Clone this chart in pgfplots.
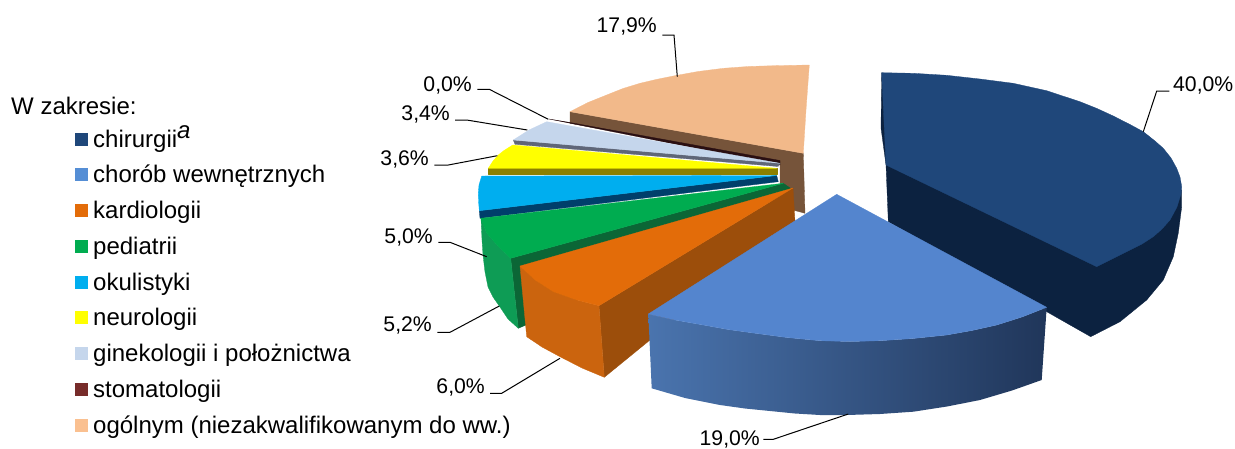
\documentclass[border=0pt]{standalone}
\usepackage{fontspec}
\setmainfont{Liberation Sans}
\usepackage{pgfplots}
\pgfplotsset{compat=1.18}
\definecolor{dbtop}{HTML}{1F477A}
\definecolor{dbside}{HTML}{0C2240}
\definecolor{bltop}{HTML}{5485CE}
\definecolor{blL}{HTML}{4A74AE}
\definecolor{blR}{HTML}{20365A}
\definecolor{ortop}{HTML}{E36C09}
\definecolor{orfront}{HTML}{CB640E}
\definecolor{orside}{HTML}{9C4E0B}
\definecolor{grtop}{HTML}{00AC50}
\definecolor{grfront}{HTML}{0E9C55}
\definecolor{grside}{HTML}{0B6636}
\definecolor{cytop}{HTML}{00AEEF}
\definecolor{cyside}{HTML}{003F6B}
\definecolor{yetop}{HTML}{FFFF00}
\definecolor{yeside}{HTML}{8C8000}
\definecolor{gitop}{HTML}{C5D6EC}
\definecolor{giside}{HTML}{5F6678}
\definecolor{sttop}{HTML}{2A0F12}
\definecolor{pctop}{HTML}{F2B98A}
\definecolor{pcside}{HTML}{76543A}
\definecolor{lgblue}{HTML}{558ED5}
\definecolor{lgst}{HTML}{772C2A}
\definecolor{lgpc}{HTML}{FAC090}
\newcommand{\poly}[2]{\addplot[fill=#1,draw=#1,line width=.3pt,line join=round] coordinates {#2} --cycle;}
\newcommand{\leader}[1]{\addplot[black,line width=1pt] coordinates {#1};}
\newcommand{\lab}[3]{\node[anchor=#1,inner sep=0pt,font=\fontsize{21.2}{21.2}\selectfont] at (axis cs:#2) {#3};}
\newcommand{\leg}[3]{\addplot[fill=#1,draw=none] coordinates {(75,#2-6.5) (88,#2-6.5) (88,#2+6.5) (75,#2+6.5)} --cycle;}
\begin{document}
\begin{tikzpicture}
\begin{axis}[hide axis,scale only axis,width=1235pt,height=448pt,xmin=0,xmax=1235,ymin=0,ymax=448,y dir=reverse,clip=false]
\path (axis cs:0,0) rectangle (axis cs:1235,448);
% ogolnym
\poly{pcside}{(570,111.7)(803.3,153.3)(805,213.3)(793,210)(780,190)(780,161.7)(570,123.3)}
\poly{pctop}{(570,111.7)(588,102.5)(606.7,95)(623,88.5)(640,83.3)(656,79.5)(673.3,76)(698,71.5)(723.3,68.3)(748,66.5)(773.3,65.7)(809.3,65)(806,110)(803.3,153.3)}
% stomatologii
\poly{sttop}{(549,119)(570,122.5)(780,160.5)(780,165)}
% ginekologii
\poly{giside}{(513.3,140)(515,144.3)(778,166.5)(780,163.3)}
\poly{gitop}{(546.7,121.7)(529,130)(513.3,140)(780,163.3)}
% neurologii
\poly{yeside}{(488.3,168.3)(488.3,174.3)(776.7,174.3)(776.7,168.3)}
\poly{yetop}{(512.7,145)(504,150.5)(498.3,155)(493,161)(488.3,168.3)(776.7,168.3)}
% okulistyki
\poly{cyside}{(479.3,210.7)(480,218.3)(778.3,181.7)(776.7,175.5)}
\poly{cytop}{(481.7,176)(479,185)(478.3,193.3)(478.6,202)(479.3,210.7)(776.7,175.5)}
% pediatrii
\poly{grside}{(510.7,258.3)(783.3,183.3)(793,190)(526,325)(518.3,328.3)}
\poly{grfront}{(481,218.3)(486.7,233)(497,245)(510.7,258.3)(518.3,328.3)(508,319)(500,307)(493,297)(488,287)(485,272)(483,255)(482,240)}
\poly{grtop}{(480.7,218.3)(783.3,183.3)(510.7,258.3)(497,245)(486.7,233)}
% kardiologii
\poly{orside}{(599,305.7)(793,188)(795,221.7)(604.3,377.3)}
\poly{orfront}{(520,266)(535,280)(553.3,291.7)(575,299.5)(599,305.7)(604.3,377.3)(582,368)(560,356.7)(542,347)(526.7,336.7)}
\poly{ortop}{(520,266)(793,188)(599,305.7)(575,299.5)(553.3,291.7)(535,280)}
% chirurgii
\poly{dbside}{(881.7,72.7)(881,128)(886,165)(888.3,221.7)(1090.7,336.7)(1120,321.7)(1146.7,300)(1163.3,280)(1173.3,256.7)(1178.3,233)(1181.7,206.7)(1181.7,190)}
\poly{dbtop}{(881.7,72.7)(913.3,73.3)(946.7,75.3)(980,79)(1013.3,83.3)(1046.7,90.7)(1080,101.7)(1097,108.5)(1113.3,116)(1130,124.5)(1143.3,131.7)(1155,141)(1163.3,148.3)(1171,158)(1176.7,168.3)(1180,177)(1181.7,186.7)(1181,194)(1177,207)(1170,220)(1162,229)(1153.3,236.7)(1142,244)(1130,250)(1113,258.5)(1096.7,266.7)(886,165)}
% chorob
\addplot[draw=none,left color=blL,right color=blR] coordinates {(648.3,314)(675,320)(703.3,325)(728,329.5)(753.3,333)(787,337.5)(820,340.7)(850,341.5)(880,340.7)(913,338.5)(946.7,335)(972,330.5)(996.7,325)(1022,317)(1046.7,307.3)(1041.7,380)(1012,390.5)(980,400)(947,406.5)(913.3,411.7)(880,414)(846.7,415)(820,415)(795,413.5)(770,411)(745,408.5)(720,405)(685,398)(651.7,388.3)} --cycle;
\poly{bltop}{(836.7,194.3)(1046.7,307.3)(1022,317)(996.7,325)(972,330.5)(946.7,335)(913,338.5)(880,340.7)(850,341.5)(820,340.7)(787,337.5)(753.3,333)(728,329.5)(703.3,325)(675,320)(648.3,314)}
% leaders
\leader{(1143.3,131.7)(1156.7,91)(1169.3,91)}
\leader{(677.3,76.7)(674,35)(662.3,35)}
\leader{(548.3,119.3)(489.3,89.3)(477.3,89.3)}
\leader{(527.3,130)(466.7,120)(455,120)}
\leader{(497.3,155.7)(448.3,165)(434.3,165)}
\leader{(486.7,256.7)(450,242.3)(438.3,242.3)}
\leader{(499.3,306)(450,332.3)(437.3,332.3)}
\leader{(560,358.3)(501.7,393.3)(490,393.3)}
\leader{(848.3,414)(773.3,439.3)(763.3,439.3)}
% legend swatches
\leg{dbtop}{139.3}{}
\leg{lgblue}{174.7}{}
\leg{ortop}{210.3}{}
\leg{grtop}{246.3}{}
\leg{cytop}{282.3}{}
\leg{yetop}{317.7}{}
\leg{gitop}{353.3}{}
\leg{lgst}{389.3}{}
\leg{lgpc}{425.3}{}
% labels
\lab{base east}{1233.5,91.5}{40,0\%}
\lab{base east}{657,32.5}{17,9\%}
\lab{base east}{472,91}{0,0\%}
\lab{base east}{450,120.5}{3,4\%}
\lab{base east}{429,165.5}{3,6\%}
\lab{base east}{433,243.5}{5,0\%}
\lab{base east}{432,331.5}{5,2\%}
\lab{base east}{485,393.5}{6,0\%}
\lab{base east}{760,445}{19,0\%}
\newcommand{\lgt}[2]{\node[anchor=base west,inner sep=0pt,font=\fontsize{24}{24}\selectfont] at (axis cs:#1) {#2};}
\lgt{11,114}{W zakresie:}
\lgt{93,147}{chirurgii\raisebox{9pt}{\itshape a}}
\lgt{93,182.5}{chorób wewnętrznych}
\lgt{93,218}{kardiologii}
\lgt{93,254}{pediatrii}
\lgt{93,290}{okulistyki}
\lgt{93,325.5}{neurologii}
\lgt{93,361}{ginekologii i położnictwa}
\lgt{93,397}{stomatologii}
\lgt{93,433}{ogólnym (niezakwalifikowanym do ww.)}
\end{axis}
\end{tikzpicture}
\end{document}
